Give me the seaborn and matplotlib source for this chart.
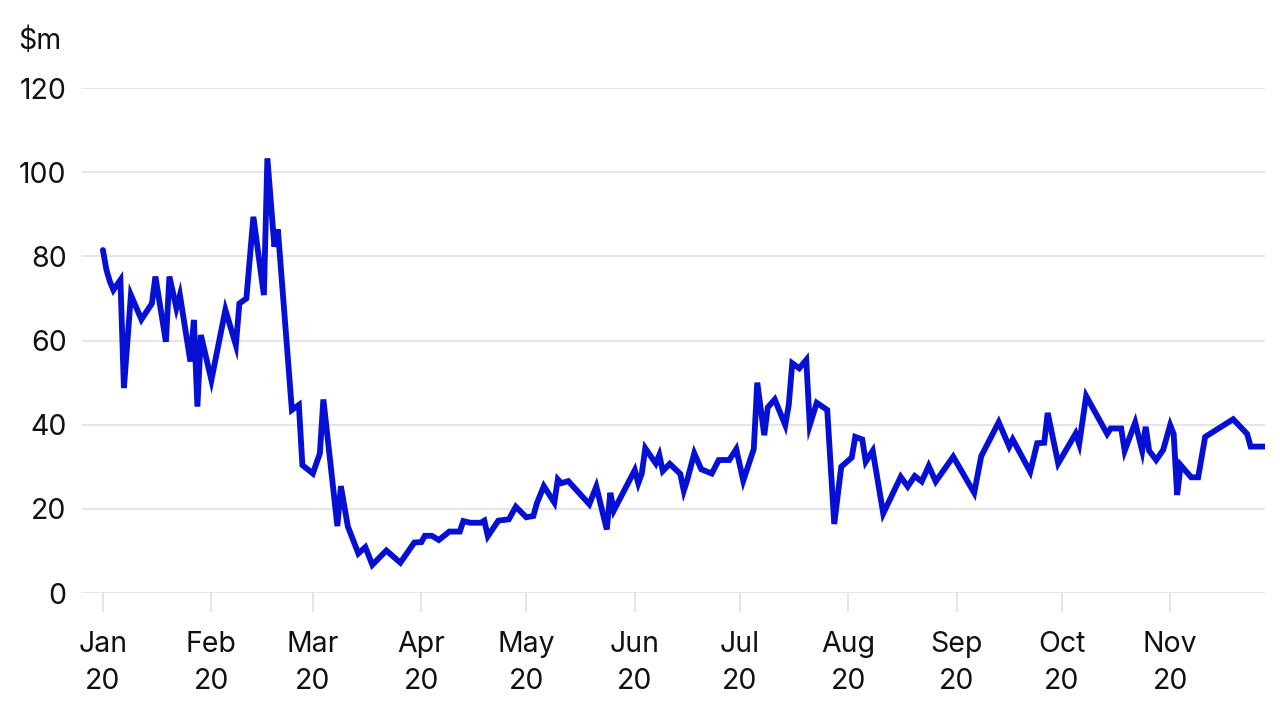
import numpy as np
import pandas as pd
import matplotlib
matplotlib.use("Agg")
import matplotlib.pyplot as plt
import matplotlib.dates as mdates
import seaborn as sns

# values ($m)
dates = [
    "2020-01-01", "2020-01-02", "2020-01-03", "2020-01-04", "2020-01-06", "2020-01-07",
    "2020-01-09", "2020-01-12", "2020-01-15", "2020-01-16", "2020-01-19", "2020-01-20",
    "2020-01-22", "2020-01-23", "2020-01-26", "2020-01-27", "2020-01-28", "2020-01-29",
    "2020-02-01", "2020-02-05", "2020-02-08", "2020-02-09", "2020-02-11", "2020-02-13",
    "2020-02-16", "2020-02-17", "2020-02-19", "2020-02-20", "2020-02-24", "2020-02-26",
    "2020-02-27", "2020-03-01", "2020-03-03", "2020-03-04", "2020-03-08", "2020-03-09",
    "2020-03-11", "2020-03-14", "2020-03-16", "2020-03-18", "2020-03-22", "2020-03-26",
    "2020-03-30", "2020-04-01", "2020-04-02", "2020-04-04", "2020-04-06", "2020-04-09",
    "2020-04-12", "2020-04-13", "2020-04-15", "2020-04-18", "2020-04-19", "2020-04-20",
    "2020-04-23", "2020-04-26", "2020-04-28", "2020-05-01", "2020-05-03", "2020-05-04",
    "2020-05-06", "2020-05-09", "2020-05-10", "2020-05-11", "2020-05-13", "2020-05-19",
    "2020-05-21", "2020-05-24", "2020-05-25", "2020-05-26", "2020-06-01", "2020-06-02",
    "2020-06-03", "2020-06-04", "2020-06-07", "2020-06-08", "2020-06-09", "2020-06-11",
    "2020-06-14", "2020-06-15", "2020-06-16", "2020-06-18", "2020-06-20", "2020-06-23",
    "2020-06-25", "2020-06-28", "2020-06-30", "2020-07-02", "2020-07-05", "2020-07-06",
    "2020-07-08", "2020-07-09", "2020-07-11", "2020-07-14", "2020-07-15", "2020-07-16",
    "2020-07-18", "2020-07-20", "2020-07-21", "2020-07-23", "2020-07-26", "2020-07-28",
    "2020-07-30", "2020-08-02", "2020-08-03", "2020-08-05", "2020-08-06", "2020-08-08",
    "2020-08-11", "2020-08-16", "2020-08-18", "2020-08-20", "2020-08-22", "2020-08-24",
    "2020-08-26", "2020-08-31", "2020-09-06", "2020-09-08", "2020-09-13", "2020-09-16",
    "2020-09-17", "2020-09-22", "2020-09-24", "2020-09-26", "2020-09-27", "2020-09-29",
    "2020-09-30", "2020-10-05", "2020-10-06", "2020-10-08", "2020-10-14", "2020-10-15",
    "2020-10-18", "2020-10-19", "2020-10-22", "2020-10-24", "2020-10-25", "2020-10-26",
    "2020-10-28", "2020-10-30", "2020-11-01", "2020-11-02", "2020-11-03", "2020-11-04",
    "2020-11-07", "2020-11-09", "2020-11-11", "2020-11-19", "2020-11-23", "2020-11-24",
    "2020-11-28",
]
values = [
    81.5, 76.8, 74.0, 72.0, 74.4, 48.7,
    70.8, 65.0, 68.8, 75.2, 59.7, 75.2,
    67.7, 70.8, 55.0, 64.9, 44.3, 61.3,
    50.6, 67.3, 58.9, 68.8, 70.0, 89.4,
    70.8, 103.3, 82.3, 86.4, 43.5, 44.7,
    30.4, 28.4, 33.2, 46.0, 15.9, 25.4,
    15.8, 9.4, 10.9, 6.7, 10.1, 7.2,
    12.0, 12.1, 13.6, 13.6, 12.6, 14.6,
    14.6, 17.1, 16.7, 16.7, 17.2, 13.5,
    17.2, 17.5, 20.5, 18.0, 18.3, 21.3,
    25.4, 21.5, 27.0, 26.1, 26.6, 21.1,
    25.3, 15.1, 23.8, 19.6, 29.2, 26.1,
    28.4, 34.4, 30.8, 32.8, 29.0, 30.7,
    28.3, 24.3, 26.9, 33.2, 29.4, 28.4,
    31.6, 31.6, 34.2, 26.7, 34.2, 50.0,
    37.5, 44.1, 46.0, 39.9, 44.7, 54.6,
    53.4, 55.4, 39.9, 45.2, 43.5, 16.4,
    30.0, 32.2, 37.1, 36.5, 31.2, 33.8,
    18.9, 27.6, 25.3, 27.8, 26.5, 30.2,
    26.5, 32.4, 23.8, 32.5, 40.6, 34.8,
    36.5, 28.8, 35.6, 35.7, 42.8, 34.8,
    30.8, 37.9, 35.4, 46.8, 37.8, 39.1,
    39.1, 33.8, 40.5, 33.8, 39.5, 33.8,
    31.6, 34.0, 39.9, 37.8, 23.3, 30.4,
    27.5, 27.5, 37.1, 41.3, 37.8, 34.8,
    34.8,
]
y_ticks = [0, 20, 40, 60, 80, 100, 120]

df = pd.DataFrame({"date": pd.to_datetime(dates), "value": values})

sns.set_theme(style="white")
plt.rcParams["font.family"] = ["Inter", "DejaVu Sans"]

fig = plt.figure(figsize=(12.8, 7.15), dpi=100)
ax = fig.add_axes([0.064, 0.1706, 0.924, 0.7063])

sns.lineplot(data=df, x="date", y="value", ax=ax, color="#0510d4",
             linewidth=4.2, solid_joinstyle="miter", zorder=3)

ax.set_ylim(0, 120)
ax.set_yticks(y_ticks)
ax.set_xlim(pd.Timestamp("2019-12-26"), pd.Timestamp("2020-11-28"))
ax.xaxis.set_major_locator(mdates.MonthLocator())
ax.xaxis.set_major_formatter(mdates.DateFormatter("%b\n%y"))

ax.grid(axis="y", color="#e0e0e0", linewidth=1.2)
ax.grid(axis="x", visible=False)
for side in ["top", "right", "left", "bottom"]:
    ax.spines[side].set_visible(False)

ax.tick_params(axis="y", length=0, pad=11, labelsize=20.5, labelcolor="#111111")
ax.tick_params(axis="x", length=14, width=1.2, color="#e0e0e0", pad=13.5,
               labelsize=20.5, labelcolor="#111111", bottom=True)
for lbl in ax.get_xticklabels():
    lbl.set_linespacing(1.45)

ax.set_xlabel("")
ax.set_ylabel("")
fig.text(0.014, 0.942, "$m", fontsize=20.5, color="#111111", va="center", ha="left")

fig.savefig("out.png", dpi=100)
